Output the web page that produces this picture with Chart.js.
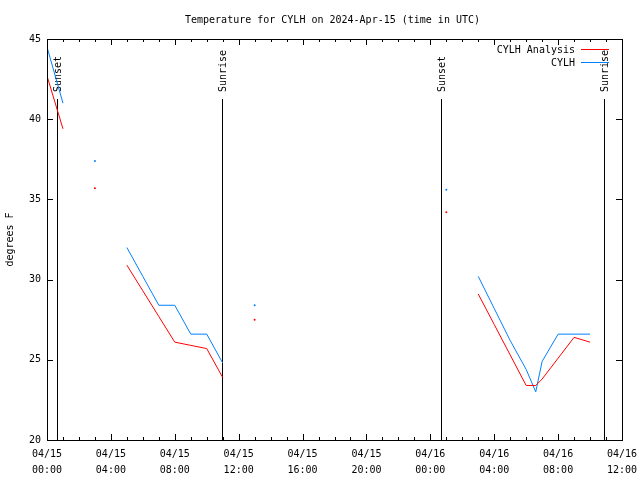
<!DOCTYPE html>
<html>
<head>
<meta charset="utf-8">
<script src="https://cdn.jsdelivr.net/npm/chart.js@4/dist/chart.umd.min.js"></script>
<style>
  html, body { margin: 0; padding: 0; background: #fff; }
  canvas { display: block; }
</style>
</head>
<body>
<canvas id="chart" width="640" height="480"></canvas>
<script>
// hours since 2024-04-15 00:00 UTC; a null breaks the line
const hours = [0, 1, 2, 3, 4, 5, 6, 7, 8, 9, 10, 11, 12, 13, 14, 25, 26, 27, 28, 29, 30, 30.6, 31, 32, 33, 34];
const analysisTemps = [42.7, 39.4, null, 35.7, null, 30.9, 29.3, 27.7, 26.1, 25.9, 25.7, 23.9, null, 27.5, null, 34.2, null, 29.1, 27.2, 25.3, 23.4, 23.4, 23.8, 25.1, 26.4, 26.1];
const observedTemps = [44.5, 41.0, null, 37.4, null, 32.0, 30.2, 28.4, 28.4, 26.6, 26.6, 24.8, null, 28.4, null, 35.6, null, 30.2, 28.2, 26.2, 24.4, 23.0, 24.9, 26.6, 26.6, 26.6];

const sunEvents = ["Sunset", "Sunrise", "Sunset", "Sunrise"];
const sunHours = [0.65, 10.94, 24.69, 34.88];

const xTickDates = ["04/15", "04/15", "04/15", "04/15", "04/15", "04/15", "04/16", "04/16", "04/16", "04/16"];
const xTickTimes = ["00:00", "04:00", "08:00", "12:00", "16:00", "20:00", "00:00", "04:00", "08:00", "12:00"];

const titleText = "Temperature for CYLH on 2024-Apr-15 (time in UTC)";
const FONT = '"DejaVu Sans Mono", "Liberation Mono", monospace';

const toPoints = (vals) => hours.map((h, i) => ({ x: h, y: vals[i] }));

// show a lone reading as a dot, since it has no neighbour to draw a line to
const loneDot = (ctx) => {
  const d = ctx.dataset.data;
  const i = ctx.dataIndex;
  const prev = i > 0 ? d[i - 1].y : null;
  const next = i < d.length - 1 ? d[i + 1].y : null;
  return (d[i].y != null && prev == null && next == null) ? 1 : 0;
};

const frame = {
  id: "frame",
  beforeDatasetsDraw(chart) {
    const { ctx, chartArea: a, scales: { x } } = chart;
    ctx.save();
    ctx.strokeStyle = "#000";
    ctx.fillStyle = "#000";
    ctx.lineWidth = 1;
    ctx.font = "10px " + FONT;
    sunHours.forEach((h, i) => {
      const px = Math.round(x.getPixelForValue(h)) + 0.5;
      ctx.beginPath();
      ctx.moveTo(px, a.bottom);
      ctx.lineTo(px, a.top + 60);
      ctx.stroke();
      ctx.save();
      ctx.translate(px + 1, a.top + 53);
      ctx.rotate(-Math.PI / 2);
      ctx.textAlign = "left";
      ctx.textBaseline = "middle";
      ctx.fillText(sunEvents[i], 0, 0);
      ctx.restore();
    });
    ctx.restore();
  },
  afterDraw(chart) {
    const { ctx, chartArea: a, scales: { x, y } } = chart;
    ctx.save();
    ctx.strokeStyle = "#000";
    ctx.fillStyle = "#000";
    ctx.lineWidth = 1;

    // border
    ctx.strokeRect(Math.round(a.left) + 0.5, Math.round(a.top) + 0.5,
      Math.round(a.right - a.left), Math.round(a.bottom - a.top));

    // inward ticks, every hour on x with longer ones on labelled hours
    ctx.beginPath();
    for (let h = x.min; h <= x.max; h++) {
      const px = Math.round(x.getPixelForValue(h)) + 0.5;
      const len = h % 4 === 0 ? 6 : 3;
      ctx.moveTo(px, a.bottom); ctx.lineTo(px, a.bottom - len);
      ctx.moveTo(px, a.top); ctx.lineTo(px, a.top + len);
    }
    y.ticks.forEach((t) => {
      const py = Math.round(y.getPixelForValue(t.value)) + 0.5;
      ctx.moveTo(a.left, py); ctx.lineTo(a.left + 6, py);
      ctx.moveTo(a.right, py); ctx.lineTo(a.right - 6, py);
    });
    ctx.stroke();

    // title
    ctx.font = "10px " + FONT;
    ctx.textAlign = "center";
    ctx.textBaseline = "middle";
    ctx.fillText(titleText, (a.left + a.right) / 2 - 2, 20);

    // legend, inside the top right corner
    ctx.textAlign = "right";
    chart.data.datasets.forEach((ds, i) => {
      const ly = a.top + 11 + i * 13;
      ctx.fillStyle = "#000";
      ctx.fillText(ds.label, a.right - 47, ly);
      ctx.strokeStyle = ds.borderColor;
      ctx.beginPath();
      ctx.moveTo(a.right - 41, Math.round(ly) - 0.5);
      ctx.lineTo(a.right - 13, Math.round(ly) - 0.5);
      ctx.stroke();
    });
    ctx.restore();
  }
};

Chart.defaults.font.family = FONT;
Chart.defaults.font.size = 10;
Chart.defaults.color = "#000";

new Chart(document.getElementById("chart"), {
  type: "line",
  data: {
    datasets: [
      {
        label: "CYLH Analysis",
        data: toPoints(analysisTemps),
        borderColor: "#ff0000",
        backgroundColor: "#ff0000",
        borderWidth: 1,
        pointRadius: loneDot,
        pointBorderWidth: 0,
        pointHoverRadius: 0,
        tension: 0
      },
      {
        label: "CYLH",
        data: toPoints(observedTemps),
        borderColor: "#0080ff",
        backgroundColor: "#0080ff",
        borderWidth: 1,
        pointRadius: loneDot,
        pointBorderWidth: 0,
        pointHoverRadius: 0,
        tension: 0
      }
    ]
  },
  options: {
    responsive: false,
    animation: false,
    events: [],
    layout: { padding: { top: 39, right: 18, left: 0, bottom: 0 } },
    plugins: {
      legend: { display: false },
      title: { display: false },
      tooltip: { enabled: false }
    },
    scales: {
      x: {
        type: "linear",
        min: 0,
        max: 36,
        grid: { display: false, drawTicks: false },
        border: { display: false },
        ticks: {
          stepSize: 4,
          padding: 6,
          maxRotation: 0,
          autoSkip: false,
          font: { size: 10, lineHeight: 1.6 },
          callback: (v, i) => [xTickDates[i], xTickTimes[i]]
        },
        afterFit: (s) => { s.height = 40; s.paddingLeft = 0; s.paddingRight = 0; }
      },
      y: {
        min: 20,
        max: 45,
        grid: { display: false, drawTicks: false },
        border: { display: false },
        ticks: { stepSize: 5, padding: 6 },
        title: { display: true, text: "degrees F", padding: { top: 4, bottom: 0 }, font: { size: 10 } },
        afterFit: (s) => { s.width = 47; s.paddingTop = 0; s.paddingBottom = 0; }
      }
    }
  },
  plugins: [frame]
});
</script>
</body>
</html>
